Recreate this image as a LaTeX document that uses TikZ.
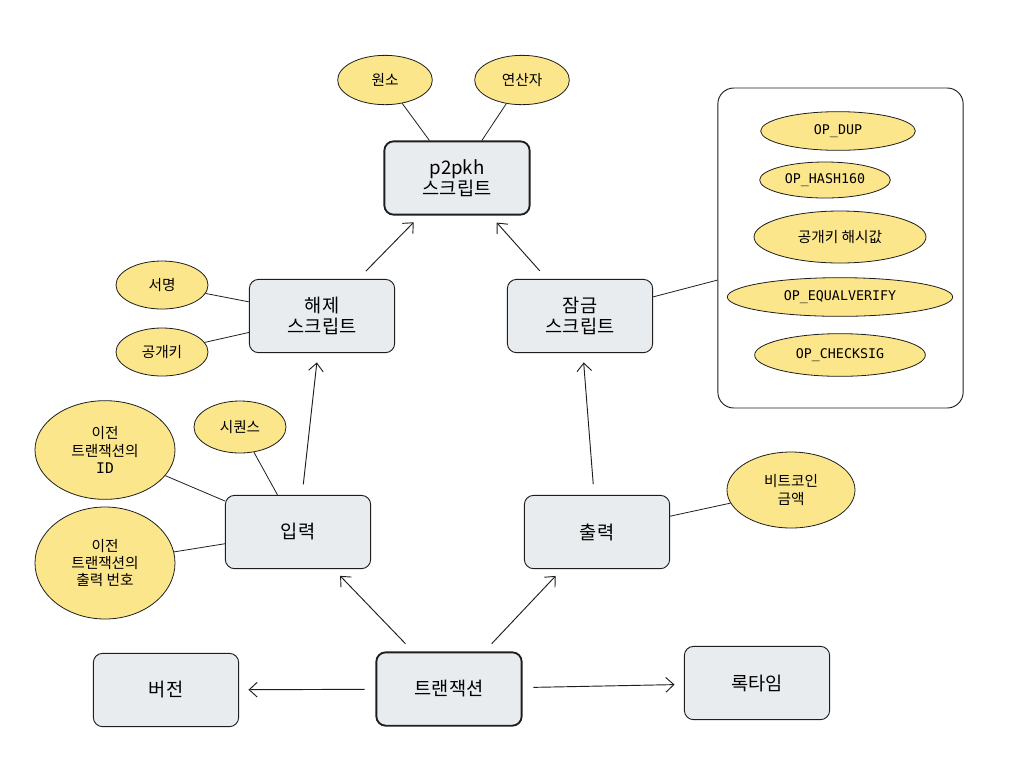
\documentclass[tikz,border=0pt]{standalone}
\usepackage{fontspec}
\setmainfont{Noto Sans CJK KR}
\newfontfamily\monof{DejaVu Sans Mono}
\usetikzlibrary{shapes.geometric,arrows.meta}
\definecolor{boxf}{HTML}{E9ECEF}
\definecolor{ellf}{HTML}{FCE68C}
\definecolor{ink}{HTML}{1E1E1E}
\begin{document}
\begin{tikzpicture}[x=0.75pt,y=-0.75pt,
 box/.style={draw=ink,fill=boxf,rounded corners=7pt,minimum width=109pt,minimum height=55pt,align=center,font=\fontsize{14}{16}\selectfont,line width=0.7pt},
 tbox/.style={box,line width=1.4pt},
 ell/.style={draw=ink,fill=ellf,ellipse,inner sep=0pt,align=center,font=\fontsize{11}{13}\selectfont,line width=0.6pt},
 op/.style={ell,font=\monof\fontsize{10}{12}\selectfont},
 arr/.style={-{Straight Barb[length=6pt,width=11pt]},draw=ink,line width=0.7pt,shorten >=7pt,shorten <=8pt},
 ln/.style={draw=ink,line width=0.6pt}]
\useasboundingbox (0,0) rectangle (1009,765);
\node[tbox] (p2) at (457,178) {p2pkh\\스크립트};
\node[ell,minimum width=71pt,minimum height=37pt] (won) at (385,80) {원소};
\node[ell,minimum width=71pt,minimum height=37pt] (yeon) at (522,80) {연산자};
\node[box] (hae) at (322,316) {해제\\스크립트};
\node[box] (jam) at (580,316) {잠금\\스크립트};
\node[ell,minimum width=69pt,minimum height=36pt] (sig) at (162,285) {서명};
\node[ell,minimum width=69pt,minimum height=36pt] (pk) at (162,352) {공개키};
\node[draw=ink,rounded corners=12pt,minimum width=184pt,minimum height=240pt,line width=0.7pt] (grp) at (840.5,248) {};
\node[op,minimum width=116pt,minimum height=29pt] at (838,131) {OP\_DUP};
\node[op,minimum width=98pt,minimum height=27pt] at (825,180) {OP\_HASH160};
\node[ell,minimum width=129pt,minimum height=39pt] at (840,237) {공개키 해시값};
\node[op,minimum width=169pt,minimum height=29pt] at (840,297) {OP\_EQUALVERIFY};
\node[op,minimum width=128pt,minimum height=32pt] at (840,355) {OP\_CHECKSIG};
\node[box] (in) at (298,532) {입력};
\node[box] (out) at (597,532) {출력};
\node[ell,minimum width=105pt,minimum height=74pt] (pid) at (105,450) {이전\\트랜잭션의\\{\monof ID}};
\node[ell,minimum width=69pt,minimum height=39pt] (seq) at (240,427) {시퀀스};
\node[ell,minimum width=105pt,minimum height=84pt] (pno) at (105,563) {이전\\트랜잭션의\\출력 번호};
\node[ell,minimum width=96pt,minimum height=57pt] (amt) at (791,490) {비트코인\\금액};
\node[tbox] (tx) at (449,689) {트랜잭션};
\node[box] (ver) at (166,690) {버전};
\node[box] (lock) at (757,683) {록타임};
\draw[arr] (tx) -- (in);
\draw[arr] (tx) -- (out);
\draw[arr] (tx) -- (ver);
\draw[arr] (tx) -- (lock);
\draw[arr] (in) -- (hae);
\draw[arr] (out) -- (jam);
\draw[arr] (hae) -- (p2);
\draw[arr] (jam) -- (p2);
\draw[ln] (won) -- (p2);
\draw[ln] (yeon) -- (p2);
\draw[ln] (sig) -- (hae);
\draw[ln] (pk) -- (hae);
\draw[ln] (pid) -- (in);
\draw[ln] (seq) -- (in);
\draw[ln] (pno) -- (in);
\draw[ln] (amt) -- (out);
\draw[ln] (jam) -- (grp);
\end{tikzpicture}
\end{document}
